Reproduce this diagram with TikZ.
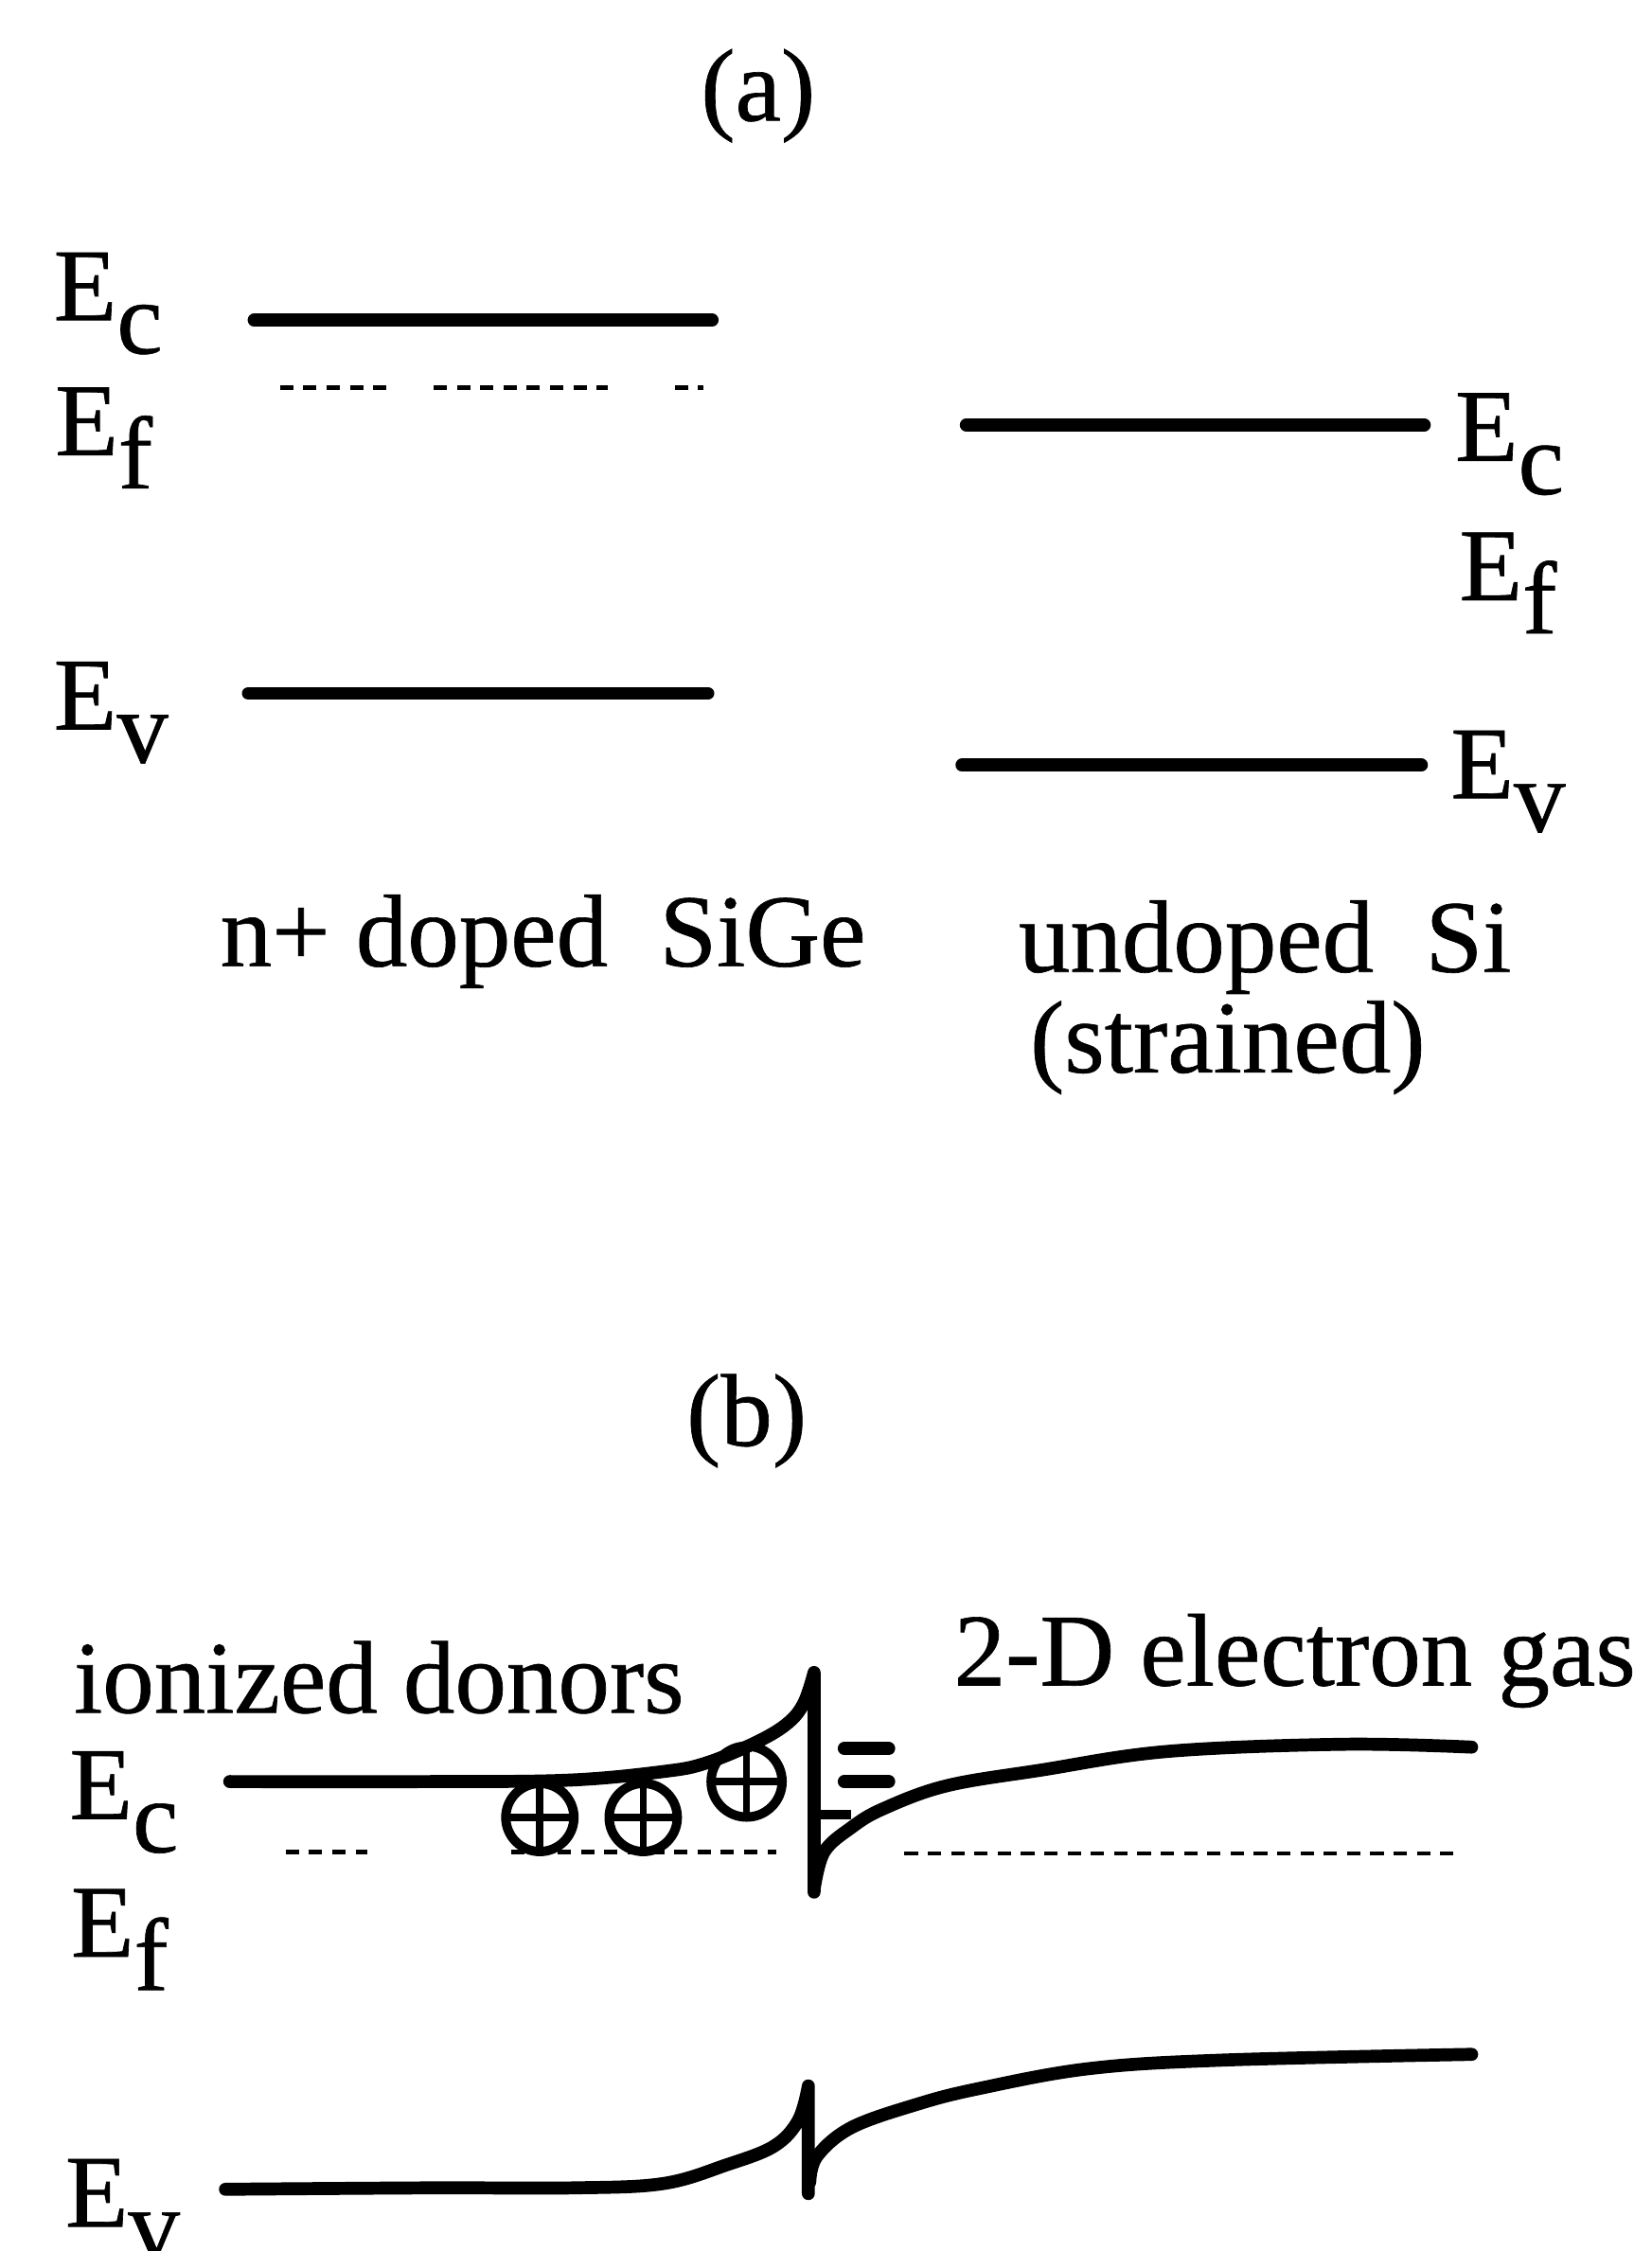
\documentclass[tikz,border=0pt]{standalone}
\usepackage{fontspec}
\setmainfont{Liberation Serif}[FakeBold=0.6]
\newcommand{\lev}[1]{E\raisebox{-10pt}{#1}}

\begin{document}
\begin{tikzpicture}[x=0.015165cm,y=-0.015165cm,
  band/.style={line width=3.9pt,line cap=round},
  fermi/.style={line width=1.3pt,dash pattern=on 4pt off 3pt},
  lbl/.style={font=\fontsize{31}{37}\selectfont,inner sep=0pt,anchor=base west},
  donor/.style={circle,draw,line width=2.8pt,inner sep=0pt,minimum size=0.72cm,
    path picture={\draw[line width=2.2pt]
      (path picture bounding box.north) -- (path picture bounding box.south)
      (path picture bounding box.west) -- (path picture bounding box.east);}}]
\useasboundingbox (0,0) rectangle (1150,1568);

% (a) flat bands
\node[lbl,anchor=base] (tagA) at (528,84) {(a)};
\node[lbl] (EcA) at (37,223) {\lev{c}};
\node[lbl] (EfA) at (38,317) {\lev{f}};
\node[lbl] (EvA) at (37,508) {\lev{v}};
\draw[band] (177,223) -- (496,223);
\draw[fermi] (195,270) -- (272,270) (302,270) -- (423,270) (470,270) -- (490,270);
\draw[band] (173,483) -- (493,483);
\draw[band] (673,296) -- (992,296);
\draw[band] (670,533) -- (990,533);
\node[lbl] (EcB) at (1013,321) {\lev{c}};
\node[lbl] (EfB) at (1016,418) {\lev{f}};
\node[lbl] (EvB) at (1010,556) {\lev{v}};
\node[lbl] (sige) at (153,673) {n+ doped\ \ SiGe};
\node[lbl] (si) at (709,677) {undoped\ \ Si};
\node[lbl] (strn) at (717,747) {(strained)};

% (b) bent bands
\node[lbl,anchor=base] (tagB) at (520,1007) {(b)};
\node[lbl] (donors) at (51,1193) {ionized donors};
\node[lbl] (gas) at (664,1174) {2-D electron gas};
\node[lbl] (EcC) at (48,1267) {\lev{c}};
\node[lbl] (EfC) at (49,1363) {\lev{f}};
\node[lbl] (EvC) at (45,1551) {\lev{v}};
\draw[fermi] (199,1290) -- (256,1290) (356,1290) -- (541,1290) (630,1291) -- (1015,1291);
\draw[band,line join=round] plot[smooth,tension=0.6] coordinates {(160,1241) (300,1241) (396,1240)
  (462,1234) (492,1228) (528,1213) (549,1200) (560,1186) (567,1165)} -- (567,1318);
\draw[band] plot[smooth,tension=0.6] coordinates {(567,1316) (574,1290) (593,1273) (615,1260)
  (659,1244) (725,1233) (813,1220) (936,1215) (1025,1217)};
\draw[line width=2.8pt] (567,1264) -- (593,1264);
\draw[band] (588,1218) -- (619,1218) (588,1241) -- (619,1241);
\node[donor] (d1) at (376,1266) {};
\node[donor] (d2) at (448,1266) {};
\node[donor,minimum size=0.75cm] (d3) at (520,1241) {};
\draw[band,line join=round] plot[smooth,tension=0.6] coordinates {(157,1525) (300,1524) (400,1524)
  (462,1521) (506,1508) (539,1495) (556,1477) (563,1453)} -- (563,1528);
\draw[band] plot[smooth,tension=0.6] coordinates {(564,1520) (569,1502) (593,1482) (638,1466)
  (681,1455) (758,1441) (852,1435) (1025,1431)};
\end{tikzpicture}
\end{document}
